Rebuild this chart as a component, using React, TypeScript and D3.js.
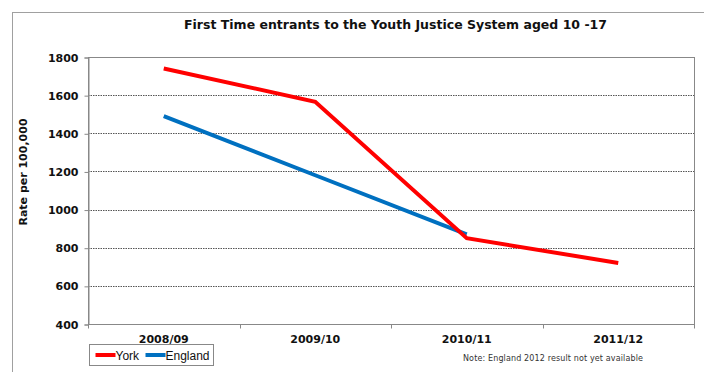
import * as d3 from 'd3'
import { useRef, useEffect } from 'react'

const periods = ['2008/09', '2009/10', '2010/11', '2011/12'];
const yorkValues = [1740, 1565, 850, 720];
const englandValues = [1490, 1180, 870];
const yTicks = [400, 600, 800, 1000, 1200, 1400, 1600, 1800];

function App() {
    const svgRef = useRef<SVGSVGElement>(null);

    useEffect(() => {
        document.body.style.margin = '0';
        const svg = d3.select(svgRef.current);
        svg.selectAll('*').remove();

        const widthSvg = 704;
        const heightSvg = 372;
        const margins = { left: 88, top: 57, right: 10, bottom: 48 };
        const widthPlot = widthSvg - margins.left - margins.right;
        const heightPlot = heightSvg - margins.top - margins.bottom;

        svg.attr('width', widthSvg).attr('height', heightSvg);

        // outer frame
        svg.append('rect')
            .attr('x', 12.5).attr('y', 12.5)
            .attr('width', 720).attr('height', 400)
            .attr('fill', 'white')
            .attr('stroke', '#a0a0a0');

        svg.append('text')
            .attr('x', 184).attr('y', 29)
            .attr('font-family', '"DejaVu Sans"')
            .attr('font-weight', 'bold')
            .attr('font-size', 12.5)
            .attr('textLength', 423)
            .attr('fill', '#111')
            .text('First Time entrants to the Youth Justice System aged 10 -17');

        const gPlot = svg.append('g')
            .attr('transform', `translate(${margins.left}, ${margins.top})`);

        const scaleX = d3.scaleBand().domain(periods).range([0, widthPlot]);
        const scaleY = d3.scaleLinear().domain([400, 1800]).range([heightPlot, 0]);

        // gridlines
        gPlot.selectAll('.grid')
            .data(yTicks.filter(t => t > 400 && t < 1800))
            .join('line')
            .attr('class', 'grid')
            .attr('x1', 0).attr('x2', widthPlot)
            .attr('y1', d => Math.round(scaleY(d)) + 0.5)
            .attr('y2', d => Math.round(scaleY(d)) + 0.5)
            .attr('stroke', '#555')
            .attr('stroke-dasharray', '1.5,1');

        gPlot.append('rect')
            .attr('x', 0.5).attr('y', 0.5)
            .attr('width', widthPlot).attr('height', heightPlot)
            .attr('fill', 'none')
            .attr('stroke', '#888');

        // y axis
        const gYAxis = gPlot.append('g')
            .attr('transform', 'translate(0.5, 0.5)')
            .call(d3.axisLeft(scaleY).tickValues(yTicks).tickSize(4).tickPadding(6).tickFormat(d3.format('d')));
        gYAxis.select('.domain').attr('stroke', '#888');
        gYAxis.selectAll('line').attr('stroke', '#888');
        gYAxis.selectAll('text')
            .attr('font-family', '"DejaVu Sans"')
            .attr('font-weight', 'bold')
            .attr('font-size', 11)
            .attr('fill', '#111');

        // x axis
        const gXAxis = gPlot.append('g')
            .attr('transform', `translate(0, ${heightPlot + 0.5})`);
        gXAxis.append('line')
            .attr('x1', 0).attr('x2', widthPlot)
            .attr('stroke', '#888');
        gXAxis.selectAll('.tick-mark')
            .data(periods.concat(['end']))
            .join('line')
            .attr('class', 'tick-mark')
            .attr('x1', (d, i) => Math.round(i * scaleX.bandwidth()) + 0.5)
            .attr('x2', (d, i) => Math.round(i * scaleX.bandwidth()) + 0.5)
            .attr('y1', 0).attr('y2', 4)
            .attr('stroke', '#888');
        gXAxis.selectAll('.tick-label')
            .data(periods)
            .join('text')
            .attr('class', 'tick-label')
            .attr('x', d => scaleX(d)! + scaleX.bandwidth() / 2)
            .attr('y', 18)
            .attr('text-anchor', 'middle')
            .attr('font-family', '"DejaVu Sans"')
            .attr('font-weight', 'bold')
            .attr('font-size', 11)
            .attr('fill', '#111')
            .text(d => d);

        svg.append('text')
            .attr('transform', 'translate(27, 172) rotate(-90)')
            .attr('text-anchor', 'middle')
            .attr('font-family', '"DejaVu Sans"')
            .attr('font-weight', 'bold')
            .attr('font-size', 11)
            .attr('fill', '#111')
            .text('Rate per 100,000');

        const line = d3.line<number>()
            .x((d, i) => scaleX(periods[i])! + scaleX.bandwidth() / 2)
            .y(d => scaleY(d));

        gPlot.append('path')
            .datum(englandValues)
            .attr('d', line)
            .attr('fill', 'none')
            .attr('stroke', '#0070C0')
            .attr('stroke-width', 4);

        gPlot.append('path')
            .datum(yorkValues)
            .attr('d', line)
            .attr('fill', 'none')
            .attr('stroke', '#FF0000')
            .attr('stroke-width', 4);

        // legend
        const gLegend = svg.append('g').attr('transform', 'translate(89.5, 344.5)');
        gLegend.append('rect')
            .attr('width', 124).attr('height', 21)
            .attr('fill', 'white')
            .attr('stroke', '#888');
        const legendItems = [
            { name: 'York', color: '#FF0000', x: 6 },
            { name: 'England', color: '#0070C0', x: 56 }
        ];
        legendItems.forEach(item => {
            gLegend.append('line')
                .attr('x1', item.x).attr('x2', item.x + 20)
                .attr('y1', 10.5).attr('y2', 10.5)
                .attr('stroke', item.color)
                .attr('stroke-width', 4);
            gLegend.append('text')
                .attr('x', item.x + 20).attr('y', 15)
                .attr('font-family', '"Liberation Sans", Arial')
                .attr('font-size', 12)
                .attr('fill', '#111')
                .text(item.name);
        });

        svg.append('text')
            .attr('x', 463).attr('y', 361)
            .attr('font-family', '"DejaVu Sans"')
            .attr('font-size', 8)
            .attr('textLength', 180)
            .attr('fill', '#333')
            .text('Note: England 2012 result not yet available');
    }, []);

    return (
        <div>
            <svg ref={svgRef} style={{ display: 'block' }}></svg>
        </div>
    )
}

export default App;
